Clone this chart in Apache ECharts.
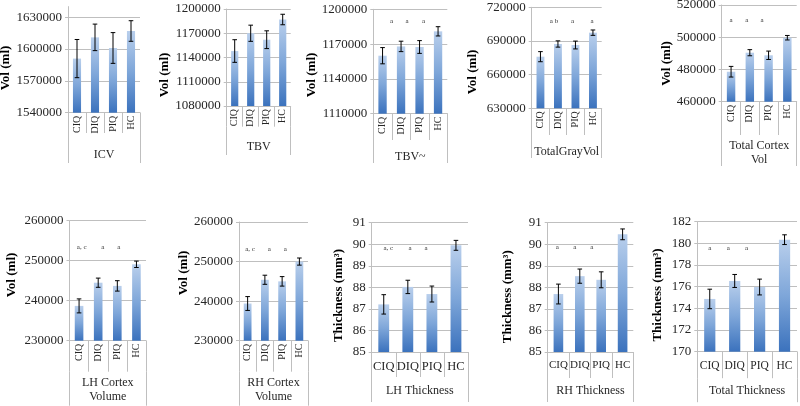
<!DOCTYPE html>
<html><head><meta charset="utf-8">
<script src="https://cdn.jsdelivr.net/npm/echarts@6/dist/echarts.min.js"></script>
<style>html,body{margin:0;padding:0;background:#fff}#c{width:800px;height:406px}</style>
</head><body><div id="c"></div>
<script>
// ---------- data ----------
const categories = ['CIQ', 'DIQ', 'PIQ', 'HC'];
const panelNames = ['ICV', 'TBV', 'TBV~', 'TotalGrayVol', 'Total Cortex\nVol',
  'LH Cortex\nVolume', 'RH Cortex\nVolume', 'LH Thickness', 'RH Thickness', 'Total Thickness'];
const yTitles = ['Vol (ml)', 'Vol (ml)', 'Vol (ml)', 'Vol (ml)', 'Vol (ml)', 'Vol (ml)', 'Vol (ml)',
  'Thickness (mm³)', 'Thickness (mm³)', 'Thickness (mm³)'];

const icvMean = [1591000, 1611000, 1601000, 1617000];
const icvErr = [18000, 12500, 14500, 9700];
const tbvMean = [1148000, 1170000, 1162000, 1187000];
const tbvErr = [14000, 10000, 11000, 6500];
const tbvTildeMean = [1160000, 1168000, 1167500, 1181000];
const tbvTildeErr = [7000, 4500, 5500, 4000];
const grayMean = [676000, 687300, 686400, 697400];
const grayErr = [4500, 2800, 3500, 2400];
const cortexMean = [478600, 490400, 488800, 499700];
const cortexErr = [3300, 1900, 2600, 1400];
const lhCortexMean = [238700, 244500, 243700, 249100];
const lhCortexErr = [1750, 1150, 1300, 800];
const rhCortexMean = [239400, 245400, 245000, 250000];
const rhCortexErr = [1750, 1150, 1200, 900];
const lhThickMean = [87.21, 88.02, 87.69, 89.95];
const lhThickErr = [0.45, 0.31, 0.37, 0.23];
const rhThickMean = [87.69, 88.52, 88.35, 90.46];
const rhThickErr = [0.46, 0.33, 0.37, 0.25];
const totThickMean = [174.87, 176.53, 175.97, 180.34];
const totThickErr = [0.9, 0.6, 0.73, 0.45];

const yMin = [1540000, 1080000, 1110000, 630000, 460000, 230000, 230000, 85, 85, 170];
const yMax = [1640000, 1200000, 1200000, 720000, 520000, 260000, 260000, 91, 91, 182];
const yStep = [30000, 30000, 30000, 30000, 20000, 10000, 10000, 1, 1, 2];

// significance letters per category
const annotations = [
  ['', '', '', ''],
  ['', '', '', ''],
  ['a', 'a', 'a', ''],
  ['', 'a b', 'a', 'a'],
  ['a', 'a', 'a', ''],
  ['a, c', 'a', 'a', ''],
  ['a, c', 'a', 'a', ''],
  ['a, c', 'a', 'a', ''],
  ['a', 'a', 'a', ''],
  ['a', 'a', 'a', '']
];

const means = [icvMean, tbvMean, tbvTildeMean, grayMean, cortexMean, lhCortexMean, rhCortexMean, lhThickMean, rhThickMean, totThickMean];
const errs = [icvErr, tbvErr, tbvTildeErr, grayErr, cortexErr, lhCortexErr, rhCortexErr, lhThickErr, rhThickErr, totThickErr];

// ---------- layout (pixels / styles) ----------
const layout = [
  {left: 68, right: 140, top: 6.6, bottom: 112.7, rot: true, catFs: 10, sep: 20.3, outer: 30, gm: 15, tx: 7, ty: 68, annY: null, annDx: [0,0,0,0]},
  {left: 226.7, right: 290.7, top: 9, bottom: 106, rot: true, catFs: 10, sep: 20.7, outer: 28.3, gm: 13.3, tx: 167, ty: 75, annY: null, annDx: [0,0,0,0]},
  {left: 373.3, right: 447.3, top: 9.3, bottom: 113.7, rot: true, catFs: 10, sep: 26.3, outer: 23, gm: 10, tx: 311.7, ty: 75, annY: 1190200, annDx: [9, 6, 4, 0]},
  {left: 531.7, right: 601.7, top: 7.3, bottom: 108.3, rot: true, catFs: 10, sep: 26.7, outer: 23, gm: 9.7, tx: 471.7, ty: 72, annY: 708000, annDx: [0, -4, -3, -1]},
  {left: 721.7, right: 796.7, top: 5, bottom: 101.7, rot: true, catFs: 10, sep: 33.3, outer: 31, gm: 3.7, tx: 666.7, ty: 63.5, annY: 510300, annDx: [0, -3, -6.5, 0]},
  {left: 69.5, right: 146, top: 220.7, bottom: 340.7, rot: true, catFs: 10, sep: 31, outer: 34, gm: 4.6, tx: 11, ty: 275, annY: 253300, annDx: [2.6, 4.5, 1.4, 0]},
  {left: 239, right: 308, top: 222, bottom: 340.7, rot: true, catFs: 10, sep: 31, outer: 34, gm: 4.6, tx: 185, ty: 273, annY: 253200, annDx: [2.4, 4.4, 3.2, 0]},
  {left: 371.7, right: 468, top: 222.7, bottom: 352, rot: false, catFs: 12.5, sep: 25, outer: 25, gm: 6.5, tx: 338, ty: 295.5, annY: 89.81, annDx: [4.6, 2.2, -5.9, 0]},
  {left: 547.7, right: 633.3, top: 222.7, bottom: 352, rot: false, catFs: 11, sep: 26, outer: 24, gm: 5.5, tx: 507.3, ty: 296.7, annY: 89.86, annDx: [-1, -5, -9.5, 0]},
  {left: 697.3, right: 797, top: 221.7, bottom: 351.7, rot: false, catFs: 11.5, sep: 26.5, outer: 24, gm: 5.5, tx: 657.3, ty: 295, annY: 179.6, annDx: [0, -6.4, -13, 0]}
];

const FONT = '"Liberation Serif","Times New Roman",serif';
const LINE_C = '#bfbfbf';
const TEXT_C = '#262626';
const BAR_W = 0.45;

const grids = [], xAxes = [], yAxes = [], series = [];

layout.forEach((L, i) => {
  grids.push({left: L.left, top: L.top, width: L.right - L.left, height: L.bottom - L.top,
    containLabel: false, outerBoundsMode: 'none'});

  xAxes.push({
    type: 'category', gridIndex: i, data: categories, position: 'bottom',
    axisLine: {show: true, onZero: false, lineStyle: {color: LINE_C, width: 1}},
    axisTick: {show: true, interval: 0, alignWithLabel: false, length: L.sep, lineStyle: {color: LINE_C}},
    axisLabel: {interval: 0, rotate: L.rot ? 90 : 0, margin: L.rot ? 3 : 8, fontFamily: FONT,
      fontSize: L.catFs, color: TEXT_C, hideOverlap: false},
    splitLine: {show: false}
  });
  xAxes.push({
    type: 'category', gridIndex: i, data: [panelNames[i]], position: 'bottom', offset: L.sep,
    axisLine: {show: false},
    axisTick: {show: true, interval: 0, alignWithLabel: false, length: L.outer, lineStyle: {color: LINE_C}},
    axisLabel: {interval: 0, margin: L.gm, fontFamily: FONT, fontSize: 12, lineHeight: 14, color: TEXT_C},
    splitLine: {show: false}
  });

  const d = L.ty - (L.top + L.bottom) / 2;
  const pad = d > 0 ? [0, 2 * d, 0, 0] : [0, 0, 0, -2 * d];
  yAxes.push({
    type: 'value', gridIndex: i, min: yMin[i], max: yMax[i], interval: yStep[i],
    name: yTitles[i], nameLocation: 'middle', nameGap: L.left - L.tx - 7,
    nameTextStyle: {fontFamily: FONT, fontWeight: 'bold', fontSize: 13, color: '#000', padding: pad},
    axisLine: {show: true, lineStyle: {color: LINE_C}},
    axisTick: {show: true, length: 3, lineStyle: {color: LINE_C}},
    axisLabel: {margin: 6, fontFamily: FONT, fontSize: 13, color: TEXT_C,
      formatter: v => String(v),
      showMaxLabel: i === 0 ? false : true, hideOverlap: false},
    splitLine: {show: true, showMaxLine: i === 0 ? false : true, lineStyle: {color: LINE_C}}
  });

  const base = yMin[i];
  series.push({
    type: 'custom', xAxisIndex: 2 * i, yAxisIndex: i, z: 2,
    data: means[i].map((v, k) => [k, v]),
    renderItem: (params, api) => {
      const k = api.value(0), v = api.value(1);
      const p = api.coord([k, v]);
      const b = api.coord([k, base]);
      const w = api.size([1, 0])[0] * BAR_W;
      return {
        type: 'rect',
        shape: {x: p[0] - w / 2, y: p[1], width: w, height: b[1] - p[1]},
        style: {fill: new echarts.graphic.LinearGradient(0, 0, 0, 1, [
          {offset: 0, color: '#b9cfec'},
          {offset: 0.5, color: '#7ea6d9'},
          {offset: 1, color: '#3b72bd'}
        ])}
      };
    }
  });

  series.push({
    type: 'custom', xAxisIndex: 2 * i, yAxisIndex: i, z: 3,
    data: means[i].map((v, k) => [k, v, errs[i][k]]),
    renderItem: (params, api) => {
      const k = api.value(0), v = api.value(1), e = api.value(2);
      const hi = api.coord([k, v + e]);
      const lo = api.coord([k, v - e]);
      const c = 2.3;
      const st = {stroke: '#000', lineWidth: 1};
      return {
        type: 'group', children: [
          {type: 'line', shape: {x1: hi[0], y1: hi[1], x2: lo[0], y2: lo[1]}, style: st},
          {type: 'line', shape: {x1: hi[0] - c, y1: hi[1], x2: hi[0] + c, y2: hi[1]}, style: st},
          {type: 'line', shape: {x1: lo[0] - c, y1: lo[1], x2: lo[0] + c, y2: lo[1]}, style: st}
        ]
      };
    }
  });

  if (L.annY !== null) {
    const annData = [];
    annotations[i].forEach((t, k) => { if (t) annData.push([k, L.annY, k]); });
    series.push({
      type: 'custom', xAxisIndex: 2 * i, yAxisIndex: i, z: 4,
      data: annData,
      renderItem: (params, api) => {
        const k = api.value(0);
        const p = api.coord([k, api.value(1)]);
        return {
          type: 'text',
          style: {text: annotations[i][k], x: p[0] + L.annDx[k], y: p[1], align: 'center',
            verticalAlign: 'middle', fontSize: 7, fontFamily: FONT, fill: '#333'}
        };
      }
    });
  }
});

const chart = echarts.init(document.getElementById('c'), null, {renderer: 'canvas'});
chart.setOption({
  animation: false,
  backgroundColor: '#fff',
  grid: grids,
  xAxis: xAxes,
  yAxis: yAxes,
  series: series
});
</script>
</body></html>
